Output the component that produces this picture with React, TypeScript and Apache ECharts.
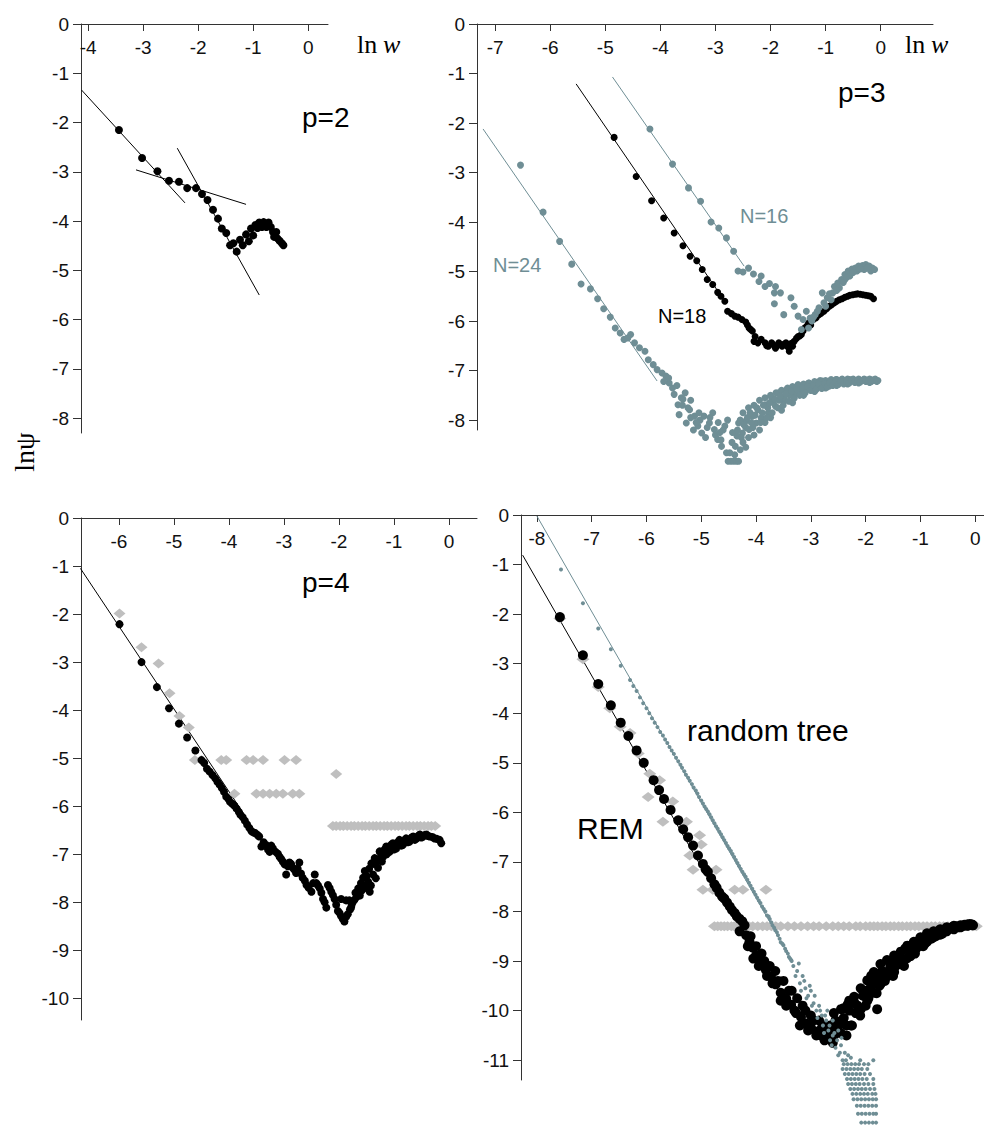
import React, { useEffect, useRef } from 'react';
import * as echarts from 'echarts';

const TEAL = '#6f8e95';
const GRAY = '#bfbfbf';
const BLACK = '#000000';
const SANS = "'Liberation Sans', Arial, Helvetica, sans-serif";
const SERIF = "'Liberation Serif', 'Times New Roman', serif";

// ---------- tick values ----------
const p2XTicks = [-4, -3, -2, -1, 0];
const p2YTicks = [0, -1, -2, -3, -4, -5, -6, -7, -8];
const p3XTicks = [-7, -6, -5, -4, -3, -2, -1, 0];
const p3YTicks = [0, -1, -2, -3, -4, -5, -6, -7, -8];
const p4XTicks = [-6, -5, -4, -3, -2, -1, 0];
const p4YTicks = [0, -1, -2, -3, -4, -5, -6, -7, -8, -9, -10];
const rtXTicks = [-8, -7, -6, -5, -4, -3, -2, -1, 0];
const rtYTicks = [0, -1, -2, -3, -4, -5, -6, -7, -8, -9, -10, -11];

// ---------- panel p=2 ----------
const p2Dots = [
  [-3.44, -2.15], [-3.02, -2.72], [-2.74, -2.99], [-2.53, -3.18], [-2.35, -3.2], [-2.2, -3.33],
  [-2.04, -3.33], [-1.93, -3.45], [-1.83, -3.57], [-1.73, -3.77], [-1.64, -3.95], [-1.57, -4.15],
  [-1.49, -4.24], [-1.42, -4.49], [-1.36, -4.45], [-1.3, -4.62], [-1.24, -4.38], [-1.19, -4.49],
  [-1.13, -4.27], [-1.08, -4.41], [-1.04, -4.15], [-1.0, -4.29], [-0.96, -4.08], [-0.92, -4.14],
  [-0.89, -4.03], [-0.84, -4.12], [-0.81, -4.02], [-0.76, -4.12], [-0.72, -4.03], [-0.68, -4.12],
  [-0.64, -4.22], [-0.62, -4.32], [-0.58, -4.22], [-0.56, -4.35], [-0.52, -4.4], [-0.48, -4.45],
  [-0.45, -4.49],
];
const p2LineA = [[-4.12, -1.34], [-2.24, -3.63]];
const p2LineB = [[-3.13, -2.96], [-1.13, -3.66]];
const p2LineC = [[-2.38, -2.52], [-0.89, -5.5]];

// ---------- panel p=3 ----------
const n16Line = [[-4.87, -1.07], [-2.48, -4.89]];
const n18Line = [[-5.53, -1.21], [-2.83, -5.6]];
const n24Line = [[-7.22, -2.12], [-4.06, -7.21]];
const n16Dots = [
  [-4.19, -2.12], [-3.78, -2.83], [-3.49, -3.31], [-3.27, -3.58], [-3.08, -4.0], [-2.94, -4.12],
  [-2.8, -4.32], [-2.67, -4.59], [-2.59, -4.99], [-2.5, -5.01], [-2.4, -4.93], [-2.31, -5.05],
  [-2.21, -5.2], [-2.17, -5.09], [-2.1, -5.3], [-2.02, -5.24], [-1.93, -5.43], [-1.91, -5.3],
  [-1.82, -5.43], [-1.93, -5.65], [-1.76, -5.87], [-1.63, -5.53], [-1.57, -5.7], [-1.5, -5.9],
  [-1.41, -5.97], [-1.35, -5.8], [-1.28, -5.94], [-1.44, -6.17], [-1.31, -6.14], [-1.25, -6.0],
  [-1.19, -5.87], [-1.12, -5.73], [-1.06, -5.43], [-1.03, -5.63], [-0.97, -5.53], [-0.9, -5.57],
  [-0.84, -5.3], [-0.78, -5.23], [-0.71, -5.16], [-0.65, -5.06], [-0.59, -4.99], [-0.52, -4.95],
  [-0.46, -4.93], [-0.4, -4.89], [-0.33, -4.88], [-0.27, -4.86], [-0.21, -4.89], [-0.15, -4.93],
  [-0.87, -5.43], [-0.75, -5.33], [-0.65, -5.16], [-0.56, -5.09], [-0.43, -4.99], [-0.3, -4.96],
  [-0.18, -4.99], [-0.11, -4.96], [-1.0, -5.7], [-0.93, -5.45], [-0.8, -5.38], [-0.68, -5.22],
  [-0.62, -5.12], [-0.5, -5.02], [-0.37, -4.95], [-0.24, -4.93], [-1.15, -5.8], [-1.22, -5.92],
];
const n18Dots = [
  [-4.84, -2.29], [-4.44, -3.08], [-4.16, -3.57], [-3.94, -3.92], [-3.75, -4.22], [-3.59, -4.48],
  [-3.46, -4.69], [-3.34, -4.78], [-3.24, -4.96], [-3.15, -5.16], [-3.05, -5.26], [-2.96, -5.42],
  [-2.9, -5.5], [-2.83, -5.6], [-2.78, -5.8], [-2.71, -5.85], [-2.65, -5.9], [-2.59, -5.92],
  [-2.52, -5.97], [-2.45, -6.02], [-2.39, -6.14], [-2.33, -6.2], [-2.28, -6.31], [-2.3, -6.41],
  [-2.23, -6.44], [-2.17, -6.37], [-2.1, -6.44], [-2.04, -6.51], [-1.98, -6.44], [-1.91, -6.55],
  [-1.85, -6.44], [-1.79, -6.51], [-1.72, -6.44], [-1.66, -6.61], [-1.6, -6.51], [-1.57, -6.41],
  [-1.5, -6.31], [-1.44, -6.27], [-1.38, -6.14], [-1.31, -6.04], [-1.22, -5.97], [-1.12, -5.87],
  [-1.03, -5.8], [-0.93, -5.7], [-0.84, -5.63], [-0.75, -5.57], [-0.65, -5.52], [-0.56, -5.48],
  [-0.46, -5.46], [-0.37, -5.46], [-0.27, -5.48], [-0.18, -5.5], [-0.13, -5.55], [-1.27, -6.08],
  [-1.17, -5.93], [-0.98, -5.75], [-0.7, -5.55], [-0.42, -5.45], [-2.07, -6.5], [-1.95, -6.48],
  [-1.88, -6.5], [-1.76, -6.47], [-1.69, -6.52], [-1.62, -6.45], [-1.53, -6.35], [-1.47, -6.3],
  [-1.41, -6.2], [-1.34, -6.1], [-1.08, -5.84], [-0.89, -5.67], [-0.8, -5.6], [-0.6, -5.5],
  [-0.51, -5.47], [-0.32, -5.47], [-0.22, -5.49], [-2.36, -6.17], [-2.42, -6.08],
];
const n24Dots = [
  [-6.54, -2.85], [-6.13, -3.8], [-5.83, -4.39], [-5.61, -4.85], [-5.44, -5.25], [-5.27, -5.35],
  [-5.14, -5.55], [-5.03, -5.75], [-4.91, -5.92], [-4.82, -6.14], [-4.73, -6.24], [-4.66, -6.37],
  [-4.54, -6.27], [-4.59, -6.34], [-4.47, -6.44], [-4.38, -6.54], [-4.28, -6.61], [-4.22, -6.78],
  [-4.13, -6.88], [-4.06, -6.98], [-3.97, -7.05], [-3.9, -7.11], [-3.84, -7.25], [-3.78, -7.35],
  [-3.75, -7.48], [-3.68, -7.69], [-3.59, -7.58], [-3.66, -7.89], [-3.53, -8.06], [-3.47, -7.79],
  [-3.38, -7.92], [-3.32, -8.12], [-3.25, -8.26], [-3.21, -7.92], [-3.11, -8.06], [-3.05, -7.85],
  [-3.02, -8.19], [-2.96, -8.39], [-2.89, -8.53], [-2.83, -8.12], [-2.8, -8.66], [-2.77, -8.83],
  [-2.72, -8.83], [-2.67, -8.83], [-2.62, -8.83], [-2.58, -8.83], [-2.74, -8.66], [-2.64, -8.53],
  [-2.61, -8.32], [-2.58, -8.06], [-2.51, -8.26], [-2.45, -8.02], [-2.39, -8.19], [-2.33, -7.92],
  [-2.26, -8.06], [-2.23, -7.79], [-2.17, -7.96], [-2.1, -7.69], [-2.04, -7.85], [-1.98, -7.55],
  [-1.91, -7.72], [-1.85, -7.45], [-1.76, -7.62], [-1.69, -7.35], [-1.6, -7.48], [-1.5, -7.28],
  [-1.41, -7.42], [-1.31, -7.25], [-1.19, -7.35], [-1.06, -7.21], [-0.93, -7.31], [-0.81, -7.18],
  [-0.68, -7.25], [-0.56, -7.18], [-0.43, -7.21], [-0.3, -7.18], [-0.18, -7.2], [-0.08, -7.2],
  [-2.55, -8.0], [-2.5, -7.85], [-2.45, -8.15], [-2.4, -7.75], [-2.35, -8.05], [-2.3, -7.7],
  [-2.28, -7.9], [-2.2, -7.6], [-2.15, -7.85], [-2.1, -7.55], [-2.05, -7.75], [-2.0, -7.5],
  [-1.95, -7.65], [-1.9, -7.45], [-1.85, -7.6], [-1.8, -7.4], [-1.75, -7.55], [-1.7, -7.38],
  [-1.65, -7.5], [-1.6, -7.32], [-1.55, -7.45], [-1.5, -7.3], [-1.45, -7.38], [-1.4, -7.27],
  [-1.35, -7.35], [-1.3, -7.25], [-1.25, -7.32], [-1.2, -7.22], [-1.15, -7.3], [-1.1, -7.2],
  [-1.05, -7.28], [-1.0, -7.2], [-0.95, -7.26], [-0.9, -7.18], [-0.85, -7.24], [-0.8, -7.18],
  [-0.75, -7.22], [-0.7, -7.17], [-0.65, -7.22], [-0.6, -7.17], [-0.55, -7.21], [-0.5, -7.17],
  [-0.45, -7.2], [-0.4, -7.17], [-0.35, -7.2], [-0.3, -7.17], [-0.25, -7.19], [-0.2, -7.17],
  [-0.15, -7.19], [-0.1, -7.17], [-0.05, -7.2], [-3.45, -7.95], [-3.4, -8.2], [-3.3, -7.85],
  [-3.28, -8.0], [-3.15, -8.15], [-3.1, -7.95], [-3.0, -8.3], [-2.95, -8.05], [-2.9, -8.4],
  [-2.86, -8.2], [-2.7, -8.45], [-2.65, -8.7], [-2.55, -8.6], [-2.5, -8.45], [-2.45, -8.55],
  [-2.4, -8.35], [-2.3, -8.3], [-2.2, -8.2], [-2.1, -8.05], [-2.0, -7.95], [-3.7, -7.3],
  [-3.55, -7.45], [-3.6, -7.7], [-3.45, -7.6], [-1.8, -7.8], [-1.6, -7.65], [-1.4, -7.5],
  [-1.2, -7.42], [-1.0, -7.35], [-0.8, -7.3], [-0.6, -7.27], [-0.4, -7.25], [-0.2, -7.24],
  [-2.42, -7.95], [-2.37, -7.85], [-2.32, -8.15], [-2.25, -7.75], [-2.18, -8.05], [-2.13, -7.7],
  [-2.07, -7.95], [-2.02, -7.65], [-1.97, -7.85], [-1.92, -7.58], [-1.87, -7.75], [-1.82, -7.52],
  [-1.77, -7.7], [-1.72, -7.47], [-1.67, -7.62], [-1.62, -7.42], [-1.57, -7.56], [-1.52, -7.38],
  [-1.47, -7.5], [-1.42, -7.34], [-1.37, -7.45], [-1.32, -7.32], [-1.27, -7.4], [-1.22, -7.3],
  [-1.17, -7.38], [-1.12, -7.27], [-1.07, -7.36], [-1.02, -7.26], [-0.97, -7.33], [-0.92, -7.24],
  [-0.87, -7.3], [-0.82, -7.23], [-0.77, -7.28], [-0.72, -7.22], [-0.67, -7.27], [-0.62, -7.21],
  [-0.57, -7.25], [-0.52, -7.2], [-0.47, -7.24], [-0.42, -7.2], [-0.37, -7.23], [-0.32, -7.2],
  [-0.27, -7.22], [-0.22, -7.2], [-0.17, -7.22], [-0.12, -7.2], [-0.07, -7.22],
  [-2.78, -8.0], [-2.69, -8.25], [-2.6, -8.2], [-2.53, -8.35], [-2.48, -8.1], [-2.92, -8.25],
  [-3.18, -8.35], [-3.35, -8.05], [-3.5, -7.75], [-3.62, -7.55], [-3.85, -7.15], [-3.94, -7.22],
];

// ---------- panel p=4 ----------
const p4Line = [[-6.7, -1.05], [-3.7, -6.21]];
const p4Dots = [
  [-5.99, -2.21], [-5.59, -3.0], [-5.31, -3.52], [-5.09, -3.96], [-4.91, -4.28], [-4.76, -4.57],
  [-4.61, -4.84], [-4.5, -5.04], [-4.4, -5.22], [-4.3, -5.35], [-4.21, -5.49], [-4.13, -5.62],
  [-4.05, -5.8], [-3.98, -5.91], [-3.9, -5.99], [-3.82, -6.12], [-3.75, -6.23], [-3.67, -6.38],
  [-3.59, -6.52], [-3.52, -6.56], [-3.45, -6.63], [-3.41, -6.84], [-3.32, -6.81], [-3.26, -6.95],
  [-3.2, -6.88], [-3.11, -6.99], [-3.05, -7.1], [-2.99, -7.21], [-2.96, -7.42], [-2.9, -7.17],
  [-2.84, -7.28], [-2.78, -7.39], [-2.72, -7.17], [-2.66, -7.49], [-2.59, -7.64], [-2.5, -7.78],
  [-2.44, -7.42], [-2.41, -7.6], [-2.35, -7.71], [-2.29, -7.93], [-2.23, -8.11], [-2.2, -7.64],
  [-2.14, -7.78], [-2.08, -7.93], [-2.02, -8.18], [-1.96, -8.29], [-1.9, -8.4], [-1.84, -8.25],
  [-1.78, -8.11], [-1.75, -8.0], [-1.81, -7.96], [-1.87, -7.96], [-1.96, -7.93], [-1.68, -7.89],
  [-1.65, -7.71], [-1.62, -7.86], [-1.56, -7.49], [-1.53, -7.35], [-1.47, -7.57], [-1.44, -7.78],
  [-1.41, -7.19], [-1.35, -7.08], [-1.29, -7.28], [-1.26, -6.94], [-1.2, -7.06], [-1.14, -6.84],
  [-1.08, -6.95], [-1.02, -6.77], [-0.96, -6.88], [-0.9, -6.7], [-0.84, -6.81], [-0.78, -6.67],
  [-0.72, -6.74], [-0.65, -6.63], [-0.59, -6.67], [-0.53, -6.59], [-0.47, -6.63], [-0.41, -6.59],
  [-0.35, -6.63], [-0.26, -6.67], [-0.17, -6.7], [-0.14, -6.77], [-1.5, -7.7], [-1.38, -7.42],
  [-1.32, -7.15], [-1.23, -7.0], [-1.11, -6.9], [-0.99, -6.83],
  [-4.45, -5.1], [-4.35, -5.28], [-4.25, -5.42], [-4.17, -5.55], [-4.09, -5.7], [-4.01, -5.85],
  [-3.94, -5.95], [-3.86, -6.05], [-3.79, -6.18], [-3.71, -6.3], [-3.63, -6.45], [-3.55, -6.55],
  [-3.48, -6.6], [-3.37, -6.75], [-3.29, -6.9], [-3.23, -6.82], [-3.15, -6.95], [-3.08, -7.05],
  [-3.02, -7.15], [-2.93, -7.25], [-2.87, -7.2], [-2.81, -7.32], [-2.75, -7.3], [-2.69, -7.4],
  [-2.62, -7.55], [-2.55, -7.7], [-2.47, -7.6], [-2.38, -7.65], [-2.32, -7.8], [-2.26, -8.0],
  [-2.17, -7.7], [-2.11, -7.85], [-2.05, -8.05], [-1.99, -8.22], [-1.93, -8.35], [-1.87, -8.3],
  [-1.8, -8.15], [-1.77, -8.05], [-1.72, -7.95], [-1.7, -7.8], [-1.6, -7.6], [-1.58, -7.75],
  [-1.55, -7.65], [-1.5, -7.45], [-1.45, -7.3], [-1.42, -7.65], [-1.37, -7.2], [-1.33, -7.5],
  [-1.28, -7.1], [-1.22, -7.15], [-1.17, -6.9], [-1.13, -7.0], [-1.05, -6.8], [-1.0, -6.9],
  [-0.93, -6.75], [-0.87, -6.82], [-0.8, -6.7], [-0.75, -6.75], [-0.68, -6.65], [-0.62, -6.7],
  [-0.56, -6.62], [-0.5, -6.65], [-0.44, -6.6], [-0.38, -6.62], [-0.3, -6.64], [-0.22, -6.68],
];
const p4Diamonds = [
  [-5.99, -1.99], [-5.59, -2.69], [-5.28, -3.03], [-5.08, -3.65], [-4.9, -4.12], [-4.73, -4.36],
  [-4.62, -5.04], [-4.5, -5.04], [-4.14, -5.04], [-4.05, -5.04], [-3.68, -5.04], [-3.56, -5.04],
  [-3.38, -5.04], [-2.99, -5.04], [-2.78, -5.04], [-2.05, -5.33], [-3.9, -5.74], [-3.5, -5.74],
  [-3.38, -5.74], [-3.26, -5.74], [-3.14, -5.74], [-3.02, -5.74], [-2.84, -5.74], [-2.72, -5.74],
  [-2.11, -6.41], [-2.05, -6.41], [-1.98, -6.41], [-1.92, -6.41], [-1.85, -6.41], [-1.78, -6.41],
  [-1.72, -6.41], [-1.65, -6.41], [-1.58, -6.41], [-1.52, -6.41], [-1.45, -6.41], [-1.38, -6.41],
  [-1.32, -6.41], [-1.25, -6.41], [-1.18, -6.41], [-1.12, -6.41], [-1.05, -6.41], [-0.98, -6.41],
  [-0.92, -6.41], [-0.85, -6.41], [-0.78, -6.41], [-0.72, -6.41], [-0.65, -6.41], [-0.58, -6.41],
  [-0.52, -6.41], [-0.45, -6.41], [-0.38, -6.41], [-0.32, -6.41], [-0.25, -6.41],
];

// ---------- panel REM / random tree ----------
const remLine = [[-8.26, -0.81], [-5.0, -7.1]];
const treeLine = [[-8.0, -0.02], [-3.6, -8.5]];
const remDots = [
  [-7.58, -2.06], [-7.16, -2.83], [-6.88, -3.41], [-6.65, -3.84], [-6.47, -4.19], [-6.33, -4.46],
  [-6.18, -4.75], [-6.05, -5.0], [-5.87, -5.35], [-5.77, -5.55], [-5.68, -5.73], [-5.56, -5.95],
  [-5.42, -6.16], [-5.33, -6.34], [-5.24, -6.5], [-5.15, -6.67], [-5.06, -6.87], [-4.97, -7.04],
  [-4.88, -7.2], [-4.82, -7.33], [-4.76, -7.45], [-4.67, -7.62], [-4.58, -7.74], [-4.48, -7.9],
  [-4.39, -8.03], [-4.3, -8.15], [-4.21, -8.28], [-4.18, -8.48], [-4.12, -8.61], [-4.06, -8.73],
  [-4.0, -8.89], [-3.91, -9.02], [-3.82, -9.18], [-3.73, -9.31], [-3.64, -9.47], [-3.55, -9.64],
  [-3.45, -9.76], [-3.36, -9.88], [-3.27, -10.05], [-3.18, -10.13], [-3.09, -10.26], [-3.0, -10.34],
  [-2.91, -10.42], [-2.82, -10.5], [-2.7, -10.54], [-2.58, -10.5], [-2.45, -10.46], [-2.58, -10.05],
  [-2.45, -9.97], [-2.33, -9.88], [-2.27, -10.3], [-2.21, -9.72], [-2.09, -9.55], [-1.97, -9.39],
  [-1.85, -9.22], [-1.79, -9.97], [-1.73, -9.06], [-1.61, -8.98], [-1.48, -8.89], [-1.36, -8.81],
  [-1.24, -8.69], [-1.12, -8.61], [-1.0, -8.52], [-0.88, -8.44], [-0.76, -8.4], [-0.64, -8.36],
  [-0.52, -8.32], [-0.39, -8.29], [-0.27, -8.28], [-0.15, -8.26], [-0.06, -8.26], [-2.09, -9.97],
  [-1.97, -9.8], [-1.85, -9.64], [-1.73, -9.47], [-1.61, -9.31], [-1.48, -9.22], [-1.36, -9.06],
  [-1.24, -8.94], [-1.12, -8.81], [-1.0, -8.69], [-0.88, -8.61], [-0.76, -8.52], [-0.64, -8.47],
  [-0.52, -8.4], [-0.39, -8.36], [-0.27, -8.32], [-0.15, -8.29], [-4.3, -8.4], [-4.15, -8.7],
  [-4.05, -8.95], [-3.95, -9.1], [-3.85, -9.0], [-3.8, -9.3], [-3.7, -9.45], [-3.6, -9.4],
  [-3.55, -9.8], [-3.45, -9.9], [-3.4, -9.6], [-3.3, -10.0], [-3.2, -10.3], [-3.1, -10.0],
  [-3.05, -10.4], [-2.95, -10.2], [-2.9, -10.5], [-2.8, -10.35], [-2.75, -10.6], [-2.65, -10.3],
  [-2.6, -10.65], [-2.55, -10.2], [-2.5, -10.4], [-2.4, -10.15], [-2.35, -10.5], [-2.3, -10.0],
  [-2.25, -10.3], [-2.15, -9.9], [-2.1, -10.1], [-2.0, -9.6], [-1.95, -9.75], [-1.9, -9.5],
  [-1.8, -9.65], [-1.75, -9.35], [-1.7, -9.2], [-1.65, -9.4], [-1.55, -9.1], [-1.5, -9.3],
  [-1.4, -9.0], [-1.3, -9.1], [-1.2, -8.8], [-1.1, -8.85], [-1.05, -8.6], [-0.95, -8.7],
  [-0.9, -8.5], [-0.8, -8.55], [-0.7, -8.42], [-0.6, -8.45], [-0.45, -8.33], [-0.35, -8.3],
  [-0.2, -8.27], [-0.1, -8.25],
  [-4.92, -7.15], [-4.72, -7.52], [-4.62, -7.7], [-4.53, -7.82], [-4.44, -7.97], [-4.35, -8.1],
  [-4.25, -8.2], [-4.1, -8.5], [-4.0, -8.7], [-3.9, -8.85], [-3.75, -9.1], [-3.65, -9.2],
  [-3.5, -9.4], [-3.35, -9.6], [-3.25, -9.75], [-3.15, -9.9], [-3.0, -10.1], [-2.85, -10.2],
  [-2.75, -10.3], [-2.65, -10.45], [-2.55, -10.35], [-2.45, -10.25], [-2.35, -10.3], [-2.4, -9.95],
  [-2.3, -9.8], [-2.2, -9.85], [-2.18, -10.05], [-2.05, -9.7], [-2.0, -9.9], [-1.9, -9.3],
  [-1.85, -9.45], [-1.75, -9.5], [-1.68, -9.3], [-1.58, -9.2], [-1.52, -9.0], [-1.45, -9.1],
  [-1.38, -8.9], [-1.32, -9.0], [-1.28, -8.75], [-1.18, -8.9], [-1.15, -8.7], [-1.08, -8.75],
  [-0.98, -8.6], [-0.92, -8.65], [-0.85, -8.5], [-0.78, -8.48], [-0.72, -8.5], [-0.68, -8.4],
  [-0.62, -8.4], [-0.55, -8.37], [-0.48, -8.35], [-0.42, -8.32], [-0.32, -8.32], [-0.24, -8.3],
  [-0.12, -8.28], [-0.04, -8.28],
];
const treeDots = [
  [-7.56, -1.1], [-7.16, -1.78], [-6.88, -2.29], [-6.65, -2.71], [-6.47, -3.04], [-6.3, -3.33],
  [-6.18, -3.55], [-6.06, -3.8], [-5.95, -4.0], [-5.85, -4.19], [-5.75, -4.38], [-5.66, -4.53],
  [-5.58, -4.68], [-5.5, -4.82], [-5.42, -4.97], [-5.35, -5.1], [-5.28, -5.24], [-5.21, -5.36],
  [-5.14, -5.5], [-5.07, -5.62], [-5.0, -5.76], [-4.94, -5.88], [-4.88, -5.98], [-4.82, -6.1],
  [-4.76, -6.22], [-4.7, -6.33], [-4.64, -6.44], [-4.58, -6.56], [-4.52, -6.68], [-4.46, -6.78],
  [-4.4, -6.9], [-4.34, -7.02], [-4.28, -7.14], [-4.22, -7.25], [-4.16, -7.36], [-4.1, -7.48],
  [-4.04, -7.6], [-3.98, -7.72], [-3.92, -7.83], [-3.86, -7.95], [-3.8, -8.08], [-3.75, -8.15],
  [-3.7, -8.28], [-3.65, -8.38], [-3.6, -8.48], [-3.55, -8.62], [-3.5, -8.68], [-3.45, -8.8],
  [-3.4, -8.92], [-3.36, -8.98], [-3.32, -9.1], [-3.35, -9.0], [-3.25, -9.2], [-3.2, -9.45],
  [-3.15, -9.3], [-3.1, -9.55], [-3.05, -9.7], [-3.0, -9.6], [-2.95, -9.85], [-2.9, -10.0],
  [-2.85, -9.9], [-2.8, -10.1], [-2.78, -10.3], [-2.72, -10.2], [-2.68, -10.4], [-2.65, -10.6],
  [-2.6, -10.5], [-2.55, -10.75], [-2.5, -10.9], [-2.45, -10.7], [-2.42, -11.0], [-2.38, -10.85],
  [-2.6, -10.2], [-2.7, -10.0], [-2.5, -10.4], [-2.1, -11.0], [-1.86, -11.0],
  [-6.24, -3.45], [-6.12, -3.68], [-6.0, -3.9], [-5.9, -4.1], [-5.8, -4.28], [-5.7, -4.45],
  [-5.62, -4.6], [-5.54, -4.75], [-5.46, -4.9], [-5.38, -5.04], [-5.31, -5.17], [-5.24, -5.3],
  [-5.17, -5.43], [-5.1, -5.56], [-5.04, -5.69], [-4.97, -5.82], [-4.91, -5.93], [-4.85, -6.04],
  [-4.79, -6.16], [-4.73, -6.28], [-4.67, -6.39], [-4.61, -6.5], [-4.55, -6.62], [-4.49, -6.73],
  [-4.43, -6.84], [-4.37, -6.96], [-4.31, -7.08], [-4.25, -7.2], [-4.19, -7.3], [-4.13, -7.42],
  [-4.07, -7.54], [-4.01, -7.66], [-3.95, -7.78], [-3.89, -7.9], [-3.83, -8.0], [-3.77, -8.1],
  [-3.72, -8.22], [-3.67, -8.33], [-3.62, -8.42], [-3.57, -8.55], [-3.52, -8.65], [-3.47, -8.75],
  [-3.42, -8.85], [-3.38, -8.95], [-3.28, -9.3], [-3.22, -9.05], [-3.18, -9.6], [-3.12, -9.4],
  [-3.08, -9.75], [-3.02, -9.5], [-2.98, -9.9], [-2.93, -9.7], [-2.88, -10.15], [-2.83, -10.0],
  [-2.76, -10.45], [-2.74, -10.1], [-2.66, -10.3], [-2.62, -10.7], [-2.57, -10.45], [-2.52, -10.6],
  [-2.47, -10.85], [-2.44, -10.55], [-2.36, -11.0], [-2.32, -10.9], [-2.27, -10.95],
  [-2.4, -11.08], [-2.33, -11.08], [-2.26, -11.08], [-2.19, -11.08], [-2.12, -11.08], [-2.03, -11.08], [-1.95, -11.08],
  [-2.42, -11.18], [-2.35, -11.18], [-2.28, -11.18], [-2.21, -11.18], [-2.14, -11.18], [-2.07, -11.18], [-1.97, -11.18],
  [-2.38, -11.28], [-2.31, -11.28], [-2.24, -11.28], [-2.17, -11.28], [-2.1, -11.28], [-2.02, -11.28], [-1.92, -11.28],
  [-2.34, -11.38], [-2.27, -11.38], [-2.2, -11.38], [-2.13, -11.38], [-2.06, -11.38], [-1.98, -11.38], [-1.86, -11.38],
  [-2.32, -11.48], [-2.25, -11.48], [-2.18, -11.48], [-2.11, -11.48], [-2.03, -11.48], [-1.95, -11.48], [-1.86, -11.48],
  [-2.28, -11.58], [-2.21, -11.58], [-2.14, -11.58], [-2.07, -11.58], [-2.0, -11.58], [-1.92, -11.58], [-1.84, -11.58],
  [-2.24, -11.68], [-2.17, -11.68], [-2.1, -11.68], [-2.03, -11.68], [-1.96, -11.68], [-1.88, -11.68], [-1.82, -11.68],
  [-2.22, -11.79], [-2.15, -11.79], [-2.08, -11.79], [-2.01, -11.79], [-1.94, -11.79], [-1.87, -11.79], [-1.81, -11.79],
  [-2.16, -11.92], [-2.09, -11.92], [-2.02, -11.92], [-1.95, -11.92], [-1.88, -11.92], [-1.81, -11.92],
  [-2.14, -12.08], [-2.07, -12.08], [-2.0, -12.08], [-1.93, -12.08], [-1.86, -12.08], [-1.81, -12.08],
  [-2.08, -12.26], [-2.01, -12.26], [-1.94, -12.26], [-1.87, -12.26], [-1.81, -12.26],
];
const remDiamonds = [
  [-7.58, -2.09], [-7.16, -2.91], [-6.88, -3.47], [-6.67, -3.9], [-6.48, -4.27], [-6.3, -4.4],
  [-6.15, -4.81], [-5.94, -5.22], [-5.76, -5.35], [-5.97, -5.69], [-5.52, -5.78], [-5.7, -6.19],
  [-5.27, -6.19], [-5.03, -6.46], [-5.0, -6.65], [-5.21, -6.87], [-5.15, -7.16], [-4.73, -7.16],
  [-4.97, -7.56], [-4.79, -7.56], [-4.39, -7.56], [-4.24, -7.56], [-3.82, -7.56],
  [-4.76, -8.3], [-4.7, -8.3], [-4.64, -8.3], [-4.58, -8.3], [-4.52, -8.3], [-4.45, -8.3],
  [-4.4, -8.3], [-4.33, -8.3], [-4.27, -8.3], [-4.2, -8.3], [-4.13, -8.3], [-4.06, -8.3],
  [-3.97, -8.3], [-3.88, -8.3], [-3.8, -8.3], [-3.72, -8.3], [-3.64, -8.3], [-3.55, -8.3],
  [-3.42, -8.3], [-3.3, -8.3], [-3.18, -8.3], [-3.06, -8.3], [-2.95, -8.3], [-2.85, -8.3],
  [-2.72, -8.3], [-2.6, -8.3], [-2.5, -8.3], [-2.4, -8.3], [-2.3, -8.3], [-2.18, -8.3],
  [-2.1, -8.3], [-2.0, -8.3], [-1.92, -8.3], [-1.85, -8.3], [-1.78, -8.3], [-1.7, -8.3],
  [-1.63, -8.3], [-1.55, -8.3], [-1.48, -8.3], [-1.4, -8.3], [-1.33, -8.3], [-1.25, -8.3],
  [-1.18, -8.3], [-1.1, -8.3], [-1.03, -8.3], [-0.95, -8.3], [-0.88, -8.3], [-0.8, -8.3],
  [-0.73, -8.3], [-0.65, -8.3], [-0.58, -8.3], [-0.5, -8.3], [-0.43, -8.3], [-0.35, -8.3],
  [-0.28, -8.3], [-0.2, -8.3], [-0.13, -8.3], [-0.05, -8.3], [0.02, -8.3],
];

const labelStyle = { fontSize: 19, fontFamily: SANS, color: '#111' };

function axesFor(gi: number, xMin: number, xMax: number, xTicks: number[], yMin: number, yTicks: number[]) {
  const xAxis = {
    gridIndex: gi, type: 'value', position: 'top', min: xMin, max: xMax,
    axisLine: { show: true, onZero: false, lineStyle: { color: '#333', width: 1 } },
    axisTick: { show: true, inside: true, length: 7, customValues: xTicks, lineStyle: { color: '#333' } },
    axisLabel: { show: true, inside: true, margin: 14, customValues: xTicks, ...labelStyle },
    splitLine: { show: false },
  };
  const yAxis = {
    gridIndex: gi, type: 'value', min: yMin, max: 0,
    axisLine: { show: true, onZero: false, lineStyle: { color: '#333', width: 1 } },
    axisTick: { show: true, length: 8, customValues: yTicks, lineStyle: { color: '#333' } },
    axisLabel: { show: true, margin: 12, customValues: yTicks, padding: [0, 0, 7, 0], ...labelStyle },
    splitLine: { show: false },
  };
  return { xAxis, yAxis };
}

function fitLine(gi: number, data: number[][], color: string) {
  return {
    type: 'line', xAxisIndex: gi, yAxisIndex: gi, data, showSymbol: false, symbol: 'none',
    lineStyle: { color, width: 1 }, silent: true, clip: false, z: 1,
  };
}
function dots(gi: number, data: number[][], color: string, size: any, symbol = 'circle', z = 2) {
  return {
    type: 'scatter', xAxisIndex: gi, yAxisIndex: gi, data, symbol, symbolSize: size,
    itemStyle: { color, opacity: 1 }, silent: true, clip: false, z,
  };
}

export default function App() {
  const ref = useRef<HTMLDivElement>(null);
  useEffect(() => {
    if (!ref.current) return;
    const chart = echarts.init(ref.current, null, { renderer: 'svg' });
    const a0 = axesFor(0, -4.13, 0.36, p2XTicks, -8.3, p2YTicks);
    const a1 = axesFor(1, -7.33, 0.95, p3XTicks, -8.2, p3YTicks);
    const a2 = axesFor(2, -6.69, 0.51, p4XTicks, -10.45, p4YTicks);
    const a3 = axesFor(3, -8.29, 0.16, rtXTicks, -11.4, rtYTicks);
    const txt = (x: number, y: number, text: string, size: number, fill = '#000', family = SANS, extra: any = {}) => ({
      type: 'text', x, y, silent: true,
      style: { text, fontSize: size, fontFamily: family, fill, textAlign: 'left', textVerticalAlign: 'middle', ...extra },
    });
    chart.setOption({
      animation: false,
      backgroundColor: '#ffffff',
      grid: [
        { left: 81, top: 24, width: 247, height: 409 },
        { left: 477, top: 24, width: 456, height: 406 },
        { left: 81, top: 518, width: 396, height: 502 },
        { left: 521, top: 515, width: 463, height: 565 },
      ],
      xAxis: [a0.xAxis, a1.xAxis, a2.xAxis, a3.xAxis],
      yAxis: [a0.yAxis, a1.yAxis, a2.yAxis, a3.yAxis],
      series: [
        fitLine(0, p2LineA, BLACK), fitLine(0, p2LineB, BLACK), fitLine(0, p2LineC, BLACK),
        dots(0, p2Dots, BLACK, 8),
        fitLine(1, n24Line, TEAL), fitLine(1, n18Line, BLACK), fitLine(1, n16Line, TEAL),
        dots(1, n24Dots, TEAL, 7), dots(1, n18Dots, BLACK, 7, 'circle', 3), dots(1, n16Dots, TEAL, 7, 'circle', 4),
        fitLine(2, p4Line, BLACK),
        dots(2, p4Diamonds, GRAY, [12, 10], 'diamond'), dots(2, p4Dots, BLACK, 8, 'circle', 3),
        fitLine(3, remLine, BLACK), fitLine(3, treeLine, TEAL),
        dots(3, remDiamonds, GRAY, [13, 10], 'diamond'), dots(3, remDots, BLACK, 10, 'circle', 3),
        dots(3, treeDots, TEAL, 4, 'circle', 4),
      ],
      graphic: [
        txt(302, 117, 'p=2', 28),
        txt(838, 92, 'p=3', 28),
        txt(302, 582, 'p=4', 28),
        txt(740, 216, 'N=16', 20, TEAL),
        txt(658, 316, 'N=18', 20, BLACK),
        txt(493, 265, 'N=24', 20, TEAL),
        txt(687, 730, 'random tree', 30),
        txt(577, 828, 'REM', 30),
        txt(357, 44, 'ln', 26, '#000', SERIF),
        txt(383, 44, 'w', 26, '#000', SERIF, { fontStyle: 'italic' }),
        txt(905, 44, 'ln', 26, '#000', SERIF),
        txt(931, 44, 'w', 26, '#000', SERIF, { fontStyle: 'italic' }),
        {
          type: 'text', x: 24, y: 452, rotation: Math.PI / 2, silent: true,
          style: { text: 'lnψ', fontSize: 28, fontFamily: SERIF, fill: '#000', textAlign: 'center', textVerticalAlign: 'middle' },
        },
      ],
    });
    return () => chart.dispose();
  }, []);
  return <div ref={ref} style={{ position: 'absolute', left: 0, top: 0, width: 984, height: 1131, background: '#fff' }} />;
}
